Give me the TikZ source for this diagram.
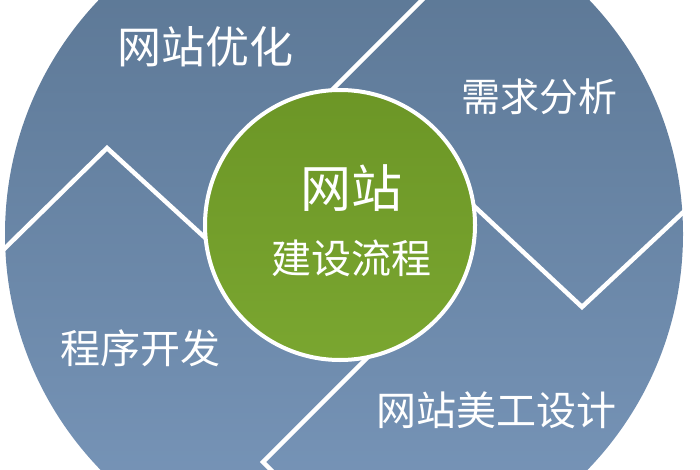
\documentclass[tikz,border=0pt]{standalone}
\usepackage{fontspec}
\newfontfamily\cjk{Noto Sans CJK SC}
\usetikzlibrary{calc}
\definecolor{disktop}{RGB}{89,116,145}
\definecolor{diskbot}{RGB}{122,152,188}
\definecolor{hubtop}{RGB}{108,150,38}
\definecolor{hubmid}{RGB}{132,172,60}
\definecolor{hubbot}{RGB}{122,166,48}
\tikzset{tight/.style={inner sep=0pt},
  phase/.style={text=white, font=\cjk\fontsize{40}{40}\selectfont},
  divider/.style={draw=white, line width=4.5pt, line join=miter}}

\begin{document}
\begin{tikzpicture}[x=1pt, y=-1pt, style=tight]
  \useasboundingbox (0, 0) rectangle (700, 470);
  \clip (0, 0) rectangle (700, 470);
  \node at (344, 234) [circle, minimum size=678pt, top color=disktop, bottom color=diskbot] (disk) {};

  \coordinate (topin) at (317, 105);
  \coordinate (topout) at (440, -18);
  \coordinate (rightin) at (460, 193);
  \coordinate (rightdip) at (582, 307);
  \coordinate (rightout) at (692, 204);
  \coordinate (leftout) at (-4, 257);
  \coordinate (leftpeak) at (107, 148);
  \coordinate (leftin) at (225, 256);
  \coordinate (bottomin) at (375, 350);
  \coordinate (bottomdip) at (263, 462);
  \coordinate (bottomout) at (280, 479);

  \draw[divider] (topin) -- (topout);
  \draw[divider] (rightin) -- (rightdip) -- (rightout);
  \draw[divider] (leftout) -- (leftpeak) -- (leftin);
  \draw[divider] (bottomin) -- (bottomdip) -- (bottomout);

  \node at (340, 225) [circle, minimum size=270pt, draw=white, line width=4pt,
    top color=hubtop, middle color=hubmid, bottom color=hubbot] (hub) {};
  \node at (351, 188) [phase, font=\cjk\fontsize{51}{51}\selectfont] (hubtitle) {网站};
  \node at (351, 258) [phase] (hubsub) {建设流程};

  \foreach \px / \py / \sz / \lbl / \txt in {205/47/44/optimize/网站优化,
    539/97/39/demand/需求分析, 496/410/40/artwork/网站美工设计,
    140/348/40/coding/程序开发} {
    \node at (\px, \py) [phase, font=\cjk\fontsize{\sz}{\sz}\selectfont] (\lbl) {\txt};
  }
\end{tikzpicture}
\end{document}
